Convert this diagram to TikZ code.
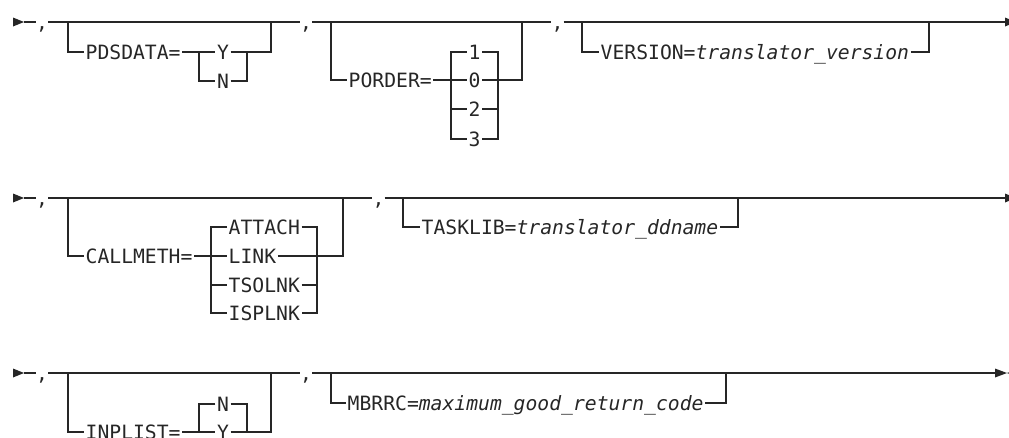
\documentclass[tikz,border=0pt]{standalone}
\usepackage{fontspec}
\setmonofont{DejaVu Sans Mono}
\usepackage{tikz}

\begin{document}
\begin{tikzpicture}[x=1pt,y=-1pt,
        rail/.style={draw=black!85,line width=1.3pt},
        word/.style={font=\ttfamily\fontsize{19.7}{20}\selectfont,text=black!85,
            inner xsep=1.5pt,inner ysep=0pt,text height=14pt,text depth=0pt,anchor=west},
        item/.style={word,anchor=center},
        comma/.style={word,anchor=center,inner xsep=0pt}]
    \useasboundingbox (0,0) rectangle (1009,437);
    % Line ends
    \foreach \y/\n in {22/1,198/2,373/3} {
            \fill[black!85] (13,\y-4.5) -- (24,\y) -- (13,\y+4.5) -- cycle;
            \coordinate (in\n) at (24,\y);
        }
    \foreach \y/\n in {22/1,198/2} {
            \fill[black!85] (1005,\y-4.5) -- (1016,\y) -- (1005,\y+4.5) -- cycle;
            \coordinate (out\n) at (1005,\y);
        }
    \fill[black!85] (995,368.5) -- (1007,373) -- (995,377.5) -- cycle;
    \fill[black!85] (1019,368.5) -- (1007,373) -- (1019,377.5) -- cycle;
    \coordinate (out3) at (995,373);

    % Row 1: coordinates
    \coordinate (b1) at (68,22);
    \coordinate (e1) at (271,22);
    \coordinate (b2) at (331,22);
    \coordinate (e2) at (522,22);
    \coordinate (b3) at (582,22);
    \coordinate (e3) at (929,22);
    \coordinate (pdsL) at (199,52);
    \coordinate (pdsR) at (247,52);
    \coordinate (porL) at (451,139);
    \coordinate (porR) at (498,139);
    % Row 1: labels
    \node[comma] (k1) at (42,22) {,};
    \node[comma] (k2) at (306,22) {,};
    \node[comma] (k3) at (557.5,22) {,};
    \node[word] (pds) at (84,52) {PDSDATA=};
    \node[item] (pdsY) at (223,52) {Y};
    \node[item] (pdsN) at (223,81) {N};
    \node[word] (por) at (347,80) {PORDER=};
    \foreach \v/\y in {1/52,0/80,2/109,3/139} {
            \node[item] (por\v) at (474.5,\y) {\v};
        }
    \node[word] (ver) at (599,52) {VERSION=\textit{translator\_version}};
    % Row 1: rails
    \draw[rail] (in1) -- (k1.west) (k1.east) -- (k2.west) (k2.east) -- (k3.west) (k3.east) -- (out1);
    \draw[rail] (b1) |- (pds.west);
    \draw[rail] (pds.east) -- (pdsY.west);
    \draw[rail] (pdsL) |- (pdsN.west);
    \draw[rail] (pdsN.east) -| (pdsR);
    \draw[rail] (pdsY.east) -- (pdsR) -| (e1);
    \draw[rail] (b2) |- (por.west);
    \draw[rail] (por.east) -- (por0.west);
    \draw[rail] (por0.east) -| (e2);
    \draw[rail] (por1.west) -| (porL) -- (por3.west);
    \draw[rail] (por1.east) -| (porR) -- (por3.east);
    \draw[rail] (por2.west -| porL) -- (por2.west);
    \draw[rail] (por2.east) -- (por2.east -| porR);
    \draw[rail] (b3) |- (ver.west);
    \draw[rail] (ver.east) -| (e3);

    % Row 2: coordinates
    \coordinate (b4) at (68,198);
    \coordinate (e4) at (343,198);
    \coordinate (b5) at (403,198);
    \coordinate (e5) at (738,198);
    \coordinate (calL) at (211,313);
    \coordinate (calR) at (317,313);
    % Row 2: labels
    \node[comma] (k4) at (42,198) {,};
    \node[comma] (k5) at (378.5,198) {,};
    \node[word] (cal) at (84,256) {CALLMETH=};
    \foreach \v/\y in {ATTACH/227,LINK/256,TSOLNK/285,ISPLNK/313} {
            \node[word] (cal\v) at (227,\y) {\v};
        }
    \node[word] (task) at (420,227) {TASKLIB=\textit{translator\_ddname}};
    % Row 2: rails
    \draw[rail] (in2) -- (k4.west) (k4.east) -- (k5.west) (k5.east) -- (out2);
    \draw[rail] (b4) |- (cal.west);
    \draw[rail] (cal.east) -- (calLINK.west);
    \draw[rail] (calLINK.east) -| (e4);
    \draw[rail] (calATTACH.west) -| (calL) -- (calISPLNK.west);
    \draw[rail] (calATTACH.east) -| (calR) -- (calISPLNK.east);
    \draw[rail] (calTSOLNK.west -| calL) -- (calTSOLNK.west);
    \draw[rail] (calTSOLNK.east) -- (calTSOLNK.east -| calR);
    \draw[rail] (b5) |- (task.west);
    \draw[rail] (task.east) -| (e5);

    % Row 3: coordinates
    \coordinate (b6) at (68,373);
    \coordinate (e6) at (271,373);
    \coordinate (b7) at (331,373);
    \coordinate (e7) at (726,373);
    \coordinate (inpL) at (199,432);
    \coordinate (inpR) at (247,432);
    \coordinate (m1) at (732,373);
    \coordinate (m2) at (756,373);
    % Row 3: labels
    \node[comma] (k6) at (42,373) {,};
    \node[comma] (k7) at (306,373) {,};
    \node[word] (inp) at (84,432) {INPLIST=};
    \node[item] (inpN) at (223,404) {N};
    \node[item] (inpY) at (223,432) {Y};
    \node[word] (mbr) at (346,403) {MBRRC=\textit{maximum\_good\_return\_code}};
    % Row 3: rails
    \draw[rail] (in3) -- (k6.west) (k6.east) -- (k7.west) (k7.east) -- (out3);
    \draw[rail,line width=2.4pt] (m1) -- (m2);
    \draw[rail] (b6) |- (inp.west);
    \draw[rail] (inp.east) -- (inpY.west);
    \draw[rail] (inpY.east) -| (e6);
    \draw[rail] (inpN.west) -| (inpL);
    \draw[rail] (inpN.east) -| (inpR);
    \draw[rail] (b7) |- (mbr.west);
    \draw[rail] (mbr.east) -| (e7);
\end{tikzpicture}
\end{document}
